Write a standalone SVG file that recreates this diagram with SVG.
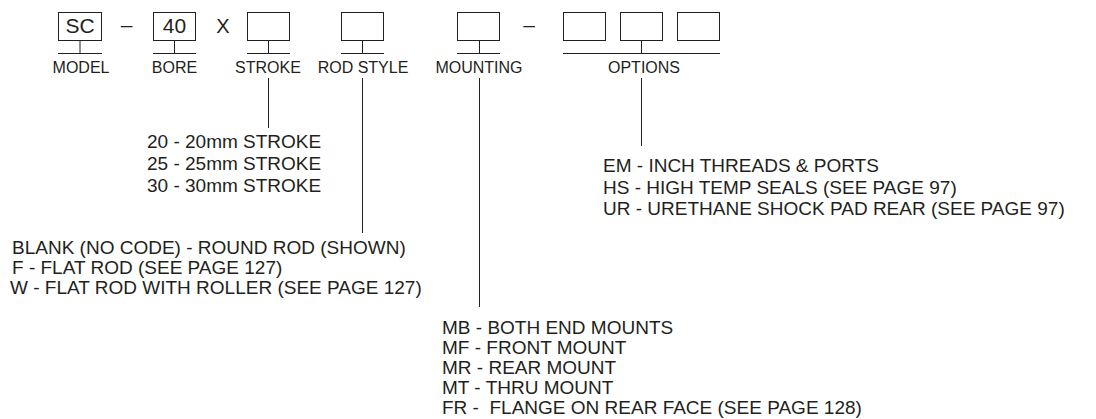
<svg xmlns="http://www.w3.org/2000/svg" width="1096" height="419" viewBox="0 0 1096 419">
<style>
.bx{fill:none;stroke:#231f20;stroke-width:1}
.ln{stroke:#231f20;stroke-width:1;fill:none}
.lbl{font-family:"Liberation Sans",Arial,sans-serif;font-size:16px;fill:#231f20;text-anchor:middle}
.big{font-family:"Liberation Sans",Arial,sans-serif;font-size:21px;fill:#231f20;text-anchor:middle}
.txt{font-family:"Liberation Sans",Arial,sans-serif;font-size:19px;fill:#231f20;white-space:pre}
</style>
<rect width="1096" height="419" fill="#ffffff"/>
<g id="model">
<rect class="bx" x="58.5" y="12.5" width="43" height="28"/>
<text class="big" x="80" y="33">SC</text>
<path class="ln" d="M80 41V53M58 53.5H102"/>
<text class="lbl" x="81" y="73">MODEL</text>
</g>
<text class="big" x="126.5" y="32">–</text>
<g id="bore">
<rect class="bx" x="153.5" y="12.5" width="42" height="28"/>
<text class="big" x="174.5" y="33">40</text>
<path class="ln" d="M174.5 41V53M153 53.5H196"/>
<text class="lbl" x="174.5" y="73">BORE</text>
</g>
<text class="big" x="223" y="33" style="font-size:20px">X</text>
<g id="stroke">
<rect class="bx" x="247.5" y="12.5" width="42" height="28"/>
<path class="ln" d="M268.5 41V53M247 53.5H290"/>
<text class="lbl" x="268" y="73">STROKE</text>
</g>
<g id="rodstyle">
<rect class="bx" x="341.5" y="12.5" width="42" height="28"/>
<path class="ln" d="M362.5 41V53M341 53.5H384"/>
<text class="lbl" x="363" y="73">ROD STYLE</text>
</g>
<g id="mounting">
<rect class="bx" x="457.5" y="12.5" width="42" height="28"/>
<path class="ln" d="M479.5 41V53M457 53.5H500"/>
<text class="lbl" x="479" y="73">MOUNTING</text>
</g>
<text class="big" x="529" y="32">–</text>
<g id="options">
<rect class="bx" x="563.5" y="12.5" width="42" height="28"/>
<rect class="bx" x="620.5" y="12.5" width="42" height="28"/>
<rect class="bx" x="677.5" y="12.5" width="42" height="28"/>
<path class="ln" d="M641.5 41V53M563 53.5H720"/>
<text class="lbl" x="644" y="73">OPTIONS</text>
</g>
<g id="connectors">
<path class="ln" d="M268.5 78V128"/>
<path class="ln" d="M362.5 78V233"/>
<path class="ln" d="M479.5 78V307"/>
<path class="ln" d="M641.5 78V146"/>
</g>
<g id="stroke-codes">
<text class="txt" x="147" y="148">20 - 20mm STROKE</text>
<text class="txt" x="147" y="170">25 - 25mm STROKE</text>
<text class="txt" x="147" y="192">30 - 30mm STROKE</text>
</g>
<g id="rod-codes">
<text class="txt" x="12" y="254">BLANK (NO CODE) - ROUND ROD (SHOWN)</text>
<text class="txt" x="12" y="274">F - FLAT ROD (SEE PAGE 127)</text>
<text class="txt" x="10" y="294">W - FLAT ROD WITH ROLLER (SEE PAGE 127)</text>
</g>
<g id="mount-codes">
<text class="txt" x="442" y="334">MB - BOTH END MOUNTS</text>
<text class="txt" x="442" y="354">MF - FRONT MOUNT</text>
<text class="txt" x="442" y="374">MR - REAR MOUNT</text>
<text class="txt" x="442" y="394">MT - THRU MOUNT</text>
<text class="txt" x="442" y="414">FR -  FLANGE ON REAR FACE (SEE PAGE 128)</text>
</g>
<g id="option-codes">
<text class="txt" x="603" y="172">EM - INCH THREADS &amp; PORTS</text>
<text class="txt" x="603" y="194">HS - HIGH TEMP SEALS (SEE PAGE 97)</text>
<text class="txt" x="603" y="215">UR - URETHANE SHOCK PAD REAR (SEE PAGE 97)</text>
</g>
</svg>
